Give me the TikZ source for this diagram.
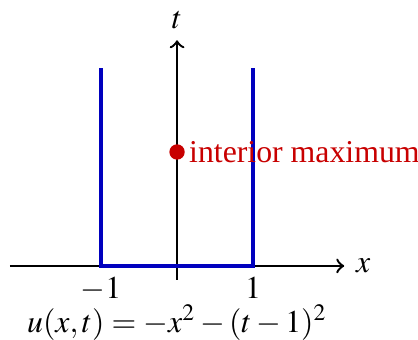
\documentclass[tikz,border=0pt]{standalone}
\usepackage{mathptmx}
\usepackage{fontspec}
\setmainfont{Liberation Serif}
\usepackage{tikz}
\usetikzlibrary{positioning}

\definecolor{wallblue}{RGB}{0,0,190}
\definecolor{maxred}{RGB}{200,0,0}

\begin{document}
\begin{tikzpicture}[
  x = 0.84cm, y = 0.84cm,
  axis/.style   = {->, line width=0.75pt},
  wall/.style   = {line width=1.1pt, color=wallblue},
  peak/.style   = {circle, fill=maxred, inner sep=0pt, minimum size=0.17cm},
  peaklbl/.style = {text=maxred, inner sep=1pt},
]
  \useasboundingbox (-2.33,-0.974) rectangle (3.171,3.5);

  % axes
  \coordinate (xmin) at (-2.2,0);
  \coordinate (xmax) at (2.2,0);
  \coordinate (tmin) at (0,-0.18);
  \coordinate (tmax) at (0,2.97);
  \draw[axis] (xmin) -- (xmax) node[right] (xlab) {$x$};
  \draw[axis] (tmin) -- (tmax) node[above] (tlab) {$t$};

  % parabolic boundary
  \coordinate (lt) at (-1,2.6);
  \coordinate (lb) at (-1,0);
  \coordinate (rb) at (1,0);
  \coordinate (rt) at (1,2.6);
  \draw[wall] (lt) -- (lb) -- (rb) -- (rt);

  \node[below] (lm) at (lb) {$-1$};
  \node[below] (lp) at (rb) {$1$};

  % maximum
  \node[peak] (max) at (0,1.5) {};
  \node[peaklbl, right=0pt of max] (maxlbl) {interior maximum};

  \node[anchor=base] (form) at (0,-0.87) {$u(x,t) = -x^2 - (t-1)^2$};
\end{tikzpicture}
\end{document}
